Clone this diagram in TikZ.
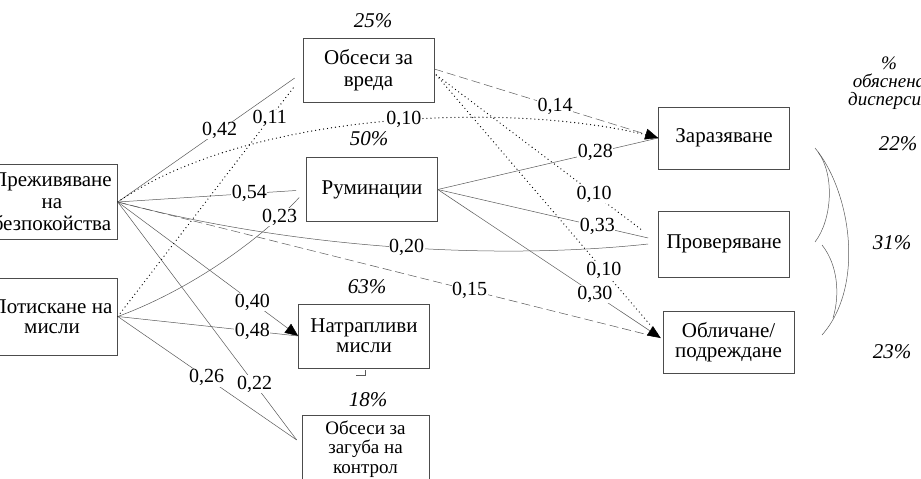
\documentclass[tikz,border=0pt]{standalone}
\usepackage{fontspec}
\setmainfont{Liberation Serif}
\usetikzlibrary{arrows.meta}

\begin{document}
\begin{tikzpicture}[x=1pt, y=-1pt,
    var/.style={draw=black!70, line width=0.6pt, minimum width=131pt, minimum height=64pt, align=center, inner sep=1pt, font=\fontsize{21}{22}\selectfont},
    share/.style={font=\fontsize{21}{22}\selectfont\itshape},
    coef/.style={fill=white, inner sep=0.6pt, font=\fontsize{20}{21}\selectfont},
    link/.style={draw=black!65, line width=0.5pt},
    dashlink/.style={link, dash pattern=on 9pt off 4pt},
    dotlink/.style={link, draw=black, line width=1.3pt, line cap=round, dash pattern=on 0pt off 4pt},
    arrow/.style={-{Triangle[length=13pt, width=11pt, color=black]}}
]
\useasboundingbox (0,0) rectangle (921,479);
\clip (0,0) rectangle (921,479);

% predictors
\node[var, minimum height=75pt] (prez) at (52,202) {Преживяване\\на\\безпокойства};
\node[var, minimum height=77pt, font=\fontsize{21}{20}\selectfont] (potisk) at (52,316.5) {Потискане на\\мисли};

% mediators
\node[var] (vreda) at (368.5,70.5) {Обсеси за\\вреда};
\node[var] (rum) at (372,189.5) {Руминации};
\node[var, font=\fontsize{21}{20}\selectfont] (natr) at (364,336) {Натрапливи\\мисли};
\node[var, minimum width=127pt, minimum height=68pt, font=\fontsize{19}{19.5}\selectfont] (zaguba) at (365.5,449) {Обсеси за\\загуба на\\контрол};

% outcomes
\node[var, minimum height=62pt] (zaraz) at (724,138) {Заразяване};
\node[var, minimum height=66pt] (prov) at (724,244) {Проверяване};
\node[var, minimum height=62pt, font=\fontsize{21}{20}\selectfont] (oblich) at (728.5,342) {Обличане/\\подреждане};

% explained variance
\node[share] at (373,21) {25\%};
\node[share] at (369,139) {50\%};
\node[share] at (367,287) {63\%};
\node[share] at (368,400) {18\%};
\node[align=center, font=\fontsize{19}{18}\selectfont\itshape] at (889,83) {\%\\обяснена\\дисперсия};
\node[share] at (898,144) {22\%};
\node[share] at (892,243) {31\%};
\node[share] at (892,352) {23\%};

% paths from the predictors
\draw[link] (prez.east) -- ([shift={(-8,7.5)}]vreda.west) node[coef, pos=0.576] {0,42};
\draw[dotlink] (prez.east) .. controls (250,110) and (520,100) .. (zaraz.west) node[coef, pos=0.53] {0,10};
\draw[link] (prez.east) -- ([shift={(-10,1)}]rum.west) node[coef, pos=0.737] {0,54};
\draw[link] (prez.east) .. controls (300,250) and (500,260) .. ([xshift=-10]prov.west) node[coef, pos=0.52] {0,20};
\draw[dashlink] (prez.east) -- ([shift={(-2,-4)}]oblich.west) node[coef, pos=0.648] {0,15};
\draw[link, arrow] (prez.east) -- (natr.west) node[coef, pos=0.746] {0,40};
\draw[link] (prez.east) -- ([shift={(-5,-9)}]zaguba.west) node[coef, pos=0.765] {0,22};
\draw[dotlink] (potisk.east) -- ([shift={(-8,15.5)}]vreda.west) node[coef, pos=0.859] {0,11};
\draw[link] (potisk.east) .. controls (190,290) and (260,240) .. ([shift={(-7,8)}]rum.west) node[coef, pos=0.85] {0,23};
\draw[link] (potisk.east) -- (natr.west) node[coef, pos=0.746] {0,48};
\draw[link] (potisk.east) -- ([shift={(-5,-9)}]zaguba.west) node[coef, pos=0.497] {0,26};

% paths from the mediators
\draw[dashlink, arrow] ([yshift=1.5]vreda.east) -- (zaraz.west) node[coef, pos=0.54] {0,14};
\draw[dotlink] ([shift={(2,4.5)}]vreda.east) -- ([shift={(-15,-13)}]prov.west) node[coef, pos=0.763] {0,10};
\draw[dotlink] ([shift={(2,4.5)}]vreda.east) -- ([shift={(-3,-6)}]oblich.west) node[coef, pos=0.75] {0,10};
\draw[link] (rum.east) -- (zaraz.west) node[coef, pos=0.715] {0,28};
\draw[link] (rum.east) -- ([shift={(-10,-6)}]prov.west) node[coef, pos=0.758] {0,33};
\draw[link, arrow] (rum.east) -- ([shift={(-2,-4)}]oblich.west) node[coef, pos=0.705] {0,30};

% small mark under the node
\draw[link] ([shift={(1,2)}]natr.south) -- ++(0,5) -- ++(-9,0);

% brace to the variance column
\draw[link] (815,148) .. controls (850,190) and (866,285) .. (822,335);
\draw[link] (818,152) .. controls (835,175) and (832,220) .. (815,242);
\draw[link] (822,245) .. controls (838,265) and (840,295) .. (833,318);
\end{tikzpicture}
\end{document}
